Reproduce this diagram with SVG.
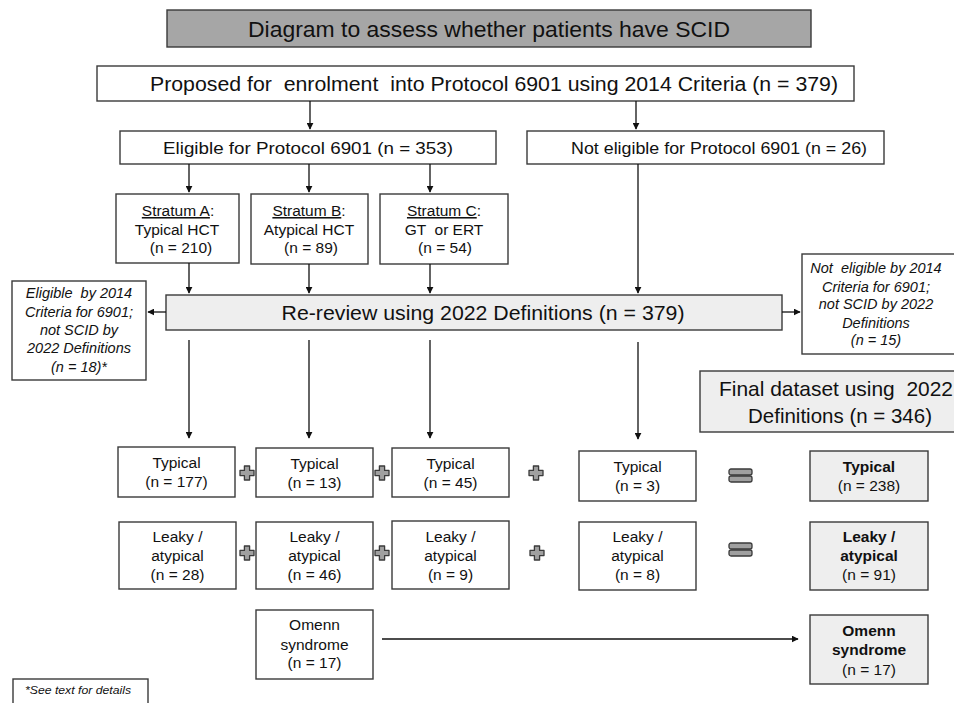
<svg xmlns="http://www.w3.org/2000/svg" width="954" height="703" viewBox="0 0 954 703">
<style>
.box{fill:#fff;stroke:#3a3a3a;stroke-width:1.4}
.gbox{fill:#eeeeee;stroke:#3a3a3a;stroke-width:1.4}
.tbox{fill:#a6a6a6;stroke:#3a3a3a;stroke-width:1.4}
text{font-family:"Liberation Sans",Arial,sans-serif;fill:#111;text-anchor:middle;white-space:pre}
.t15{font-size:15.5px}
.it{font-size:14.5px;font-style:italic}
.b{font-weight:bold}
.conn line{stroke:#111;stroke-width:1.3;marker-end:url(#ah)}
.sym{fill:#a0a0a0;stroke:#3a3a3a;stroke-width:1.3;stroke-linejoin:round}
</style>
<defs>
<marker id="ah" viewBox="0 0 10 10" refX="9" refY="5" markerWidth="7" markerHeight="7" markerUnits="userSpaceOnUse" orient="auto">
<path d="M0,0 L10,5 L0,10 z" fill="#111"/>
</marker>
<path id="plus" class="sym" d="M-2.6,-7 H2.6 V-2.6 H7 V2.6 H2.6 V7 H-2.6 V2.6 H-7 V-2.6 H-2.6 Z"/>
<g id="eq" class="sym"><rect x="0" y="0" width="23" height="6" rx="2"/><rect x="0" y="7" width="23" height="6" rx="2"/></g>
</defs>

<g id="title"><rect class="tbox" x="167" y="10" width="644" height="37"/><text x="489" y="37" font-size="22" textLength="482" lengthAdjust="spacingAndGlyphs">Diagram to assess whether patients have SCID</text></g>

<g id="proposed"><rect class="box" x="97" y="66" width="757" height="35"/><text xml:space="preserve" x="494" y="91" font-size="20" textLength="688" lengthAdjust="spacingAndGlyphs">Proposed for  enrolment  into Protocol 6901 using 2014 Criteria (n = 379)</text></g>

<g id="eligible"><rect class="box" x="120" y="131" width="376" height="33"/><text x="308" y="154" font-size="17" textLength="290" lengthAdjust="spacingAndGlyphs">Eligible for Protocol 6901 (n = 353)</text></g>

<g id="noteligible"><rect class="box" x="527" y="131" width="357" height="33"/><text x="719" y="154" font-size="17" textLength="296" lengthAdjust="spacingAndGlyphs">Not eligible for Protocol 6901 (n = 26)</text></g>

<g id="stratumA"><rect class="box" x="116" y="194" width="123" height="69"/>
<text class="t15" x="178" y="216"><tspan text-decoration="underline">Stratum A</tspan>:</text>
<text class="t15" x="177" y="235">Typical HCT</text>
<text class="t15" x="181" y="253">(n = 210)</text></g>

<g id="stratumB"><rect class="box" x="251" y="194" width="117" height="70"/>
<text class="t15" x="309" y="216"><tspan text-decoration="underline">Stratum B</tspan>:</text>
<text class="t15" x="309" y="235">Atypical HCT</text>
<text class="t15" x="311" y="253">(n = 89)</text></g>

<g id="stratumC"><rect class="box" x="380" y="194" width="128" height="70"/>
<text class="t15" x="444" y="216"><tspan text-decoration="underline">Stratum C</tspan>:</text>
<text class="t15" xml:space="preserve" x="444" y="235">GT  or ERT</text>
<text class="t15" x="445" y="253">(n = 54)</text></g>

<g id="rereview"><rect class="gbox" x="166" y="295" width="616" height="35"/><text x="483" y="320" font-size="21" textLength="403" lengthAdjust="spacingAndGlyphs">Re-review using 2022 Definitions (n = 379)</text></g>

<g id="left-excluded"><rect class="box" x="12" y="281" width="134" height="99"/>
<text class="it" xml:space="preserve" x="79" y="298">Eligible  by 2014</text>
<text class="it" x="79" y="317">Criteria for 6901;</text>
<text class="it" x="79" y="335">not SCID by</text>
<text class="it" x="79" y="353">2022 Definitions</text>
<text class="it" x="79" y="372">(n = 18)*</text></g>

<g id="right-excluded"><rect class="box" x="802" y="254" width="160" height="100"/>
<text class="it" xml:space="preserve" x="876" y="273">Not  eligible by 2014</text>
<text class="it" x="876" y="292">Criteria for 6901;</text>
<text class="it" x="876" y="309">not SCID by 2022</text>
<text class="it" x="876" y="328">Definitions</text>
<text class="it" x="876" y="345">(n = 15)</text></g>

<g id="final-dataset"><rect class="gbox" x="700" y="371" width="262" height="61"/>
<text xml:space="preserve" x="836" y="396" font-size="21" textLength="234" lengthAdjust="spacingAndGlyphs">Final dataset using  2022</text>
<text x="840" y="423" font-size="21" textLength="184" lengthAdjust="spacingAndGlyphs">Definitions (n = 346)</text></g>

<g id="typA"><rect class="box" x="118" y="447" width="117" height="50"/><text class="t15" x="176.5" y="468">Typical</text><text class="t15" x="176.5" y="487">(n = 177)</text></g>
<g id="typB"><rect class="box" x="256" y="448" width="117" height="49"/><text class="t15" x="314.5" y="469">Typical</text><text class="t15" x="314.5" y="488">(n = 13)</text></g>
<g id="typC"><rect class="box" x="392" y="448" width="117" height="49"/><text class="t15" x="450.5" y="469">Typical</text><text class="t15" x="450.5" y="488">(n = 45)</text></g>
<g id="typN"><rect class="box" x="579" y="451" width="117" height="50"/><text class="t15" x="637.5" y="472">Typical</text><text class="t15" x="637.5" y="491">(n = 3)</text></g>
<g id="typFinal"><rect class="gbox" x="810" y="451" width="118" height="50"/><text class="t15 b" x="869" y="472">Typical</text><text class="t15" x="869" y="491">(n = 238)</text></g>

<g id="leakA"><rect class="box" x="119" y="522" width="117" height="67"/><text class="t15" x="177.5" y="542">Leaky /</text><text class="t15" x="177.5" y="561">atypical</text><text class="t15" x="177.5" y="580">(n = 28)</text></g>
<g id="leakB"><rect class="box" x="256" y="522" width="117" height="67"/><text class="t15" x="314.5" y="542">Leaky /</text><text class="t15" x="314.5" y="561">atypical</text><text class="t15" x="314.5" y="580">(n = 46)</text></g>
<g id="leakC"><rect class="box" x="392" y="521" width="117" height="68"/><text class="t15" x="450.5" y="542">Leaky /</text><text class="t15" x="450.5" y="561">atypical</text><text class="t15" x="450.5" y="580">(n = 9)</text></g>
<g id="leakN"><rect class="box" x="579" y="522" width="117" height="68"/><text class="t15" x="637.5" y="542">Leaky /</text><text class="t15" x="637.5" y="561">atypical</text><text class="t15" x="637.5" y="580">(n = 8)</text></g>
<g id="leakFinal"><rect class="gbox" x="810" y="522" width="118" height="68"/><text class="t15 b" x="869" y="542">Leaky /</text><text class="t15 b" x="869" y="561">atypical</text><text class="t15" x="869" y="580">(n = 91)</text></g>

<g id="omenn"><rect class="box" x="256" y="610" width="117" height="69"/><text class="t15" x="314.5" y="630">Omenn</text><text class="t15" x="314.5" y="650">syndrome</text><text class="t15" x="314.5" y="668">(n = 17)</text></g>
<g id="omennFinal"><rect class="gbox" x="810" y="615" width="118" height="69"/><text class="t15 b" x="869" y="636">Omenn</text><text class="t15 b" x="869" y="655">syndrome</text><text class="t15" x="869" y="675">(n = 17)</text></g>

<g id="footnote"><rect class="box" x="13" y="679" width="135" height="30"/><text x="78" y="694" font-size="10" font-style="italic" textLength="106" lengthAdjust="spacingAndGlyphs">*See text for details</text></g>

<g id="operators">
<use href="#plus" x="247" y="473"/><use href="#plus" x="382" y="473"/><use href="#plus" x="536" y="473"/>
<use href="#plus" x="247" y="553"/><use href="#plus" x="382" y="553"/><use href="#plus" x="537" y="553"/>
<use href="#eq" x="729" y="469"/><use href="#eq" x="729" y="543"/>
</g>

<g id="connectors" class="conn">
<line x1="310" y1="101" x2="310" y2="129"/>
<line x1="636" y1="101" x2="636" y2="129"/>
<line x1="189" y1="164" x2="189" y2="192"/>
<line x1="309" y1="164" x2="309" y2="192"/>
<line x1="430" y1="164" x2="430" y2="192"/>
<line x1="189" y1="263" x2="189" y2="293"/>
<line x1="309" y1="264" x2="309" y2="293"/>
<line x1="430" y1="264" x2="430" y2="293"/>
<line x1="638" y1="164" x2="638" y2="293"/>
<line x1="166" y1="312" x2="148" y2="312"/>
<line x1="782" y1="312" x2="800" y2="312"/>
<line x1="189" y1="340" x2="189" y2="438"/>
<line x1="309" y1="340" x2="309" y2="438"/>
<line x1="430" y1="340" x2="430" y2="438"/>
<line x1="638" y1="342" x2="638" y2="439"/>
<line x1="382" y1="639" x2="798" y2="639"/>
</g>
</svg>
